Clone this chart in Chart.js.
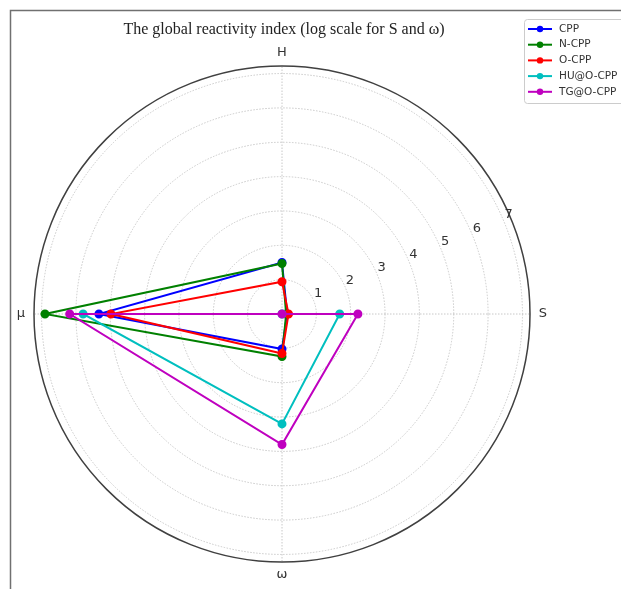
<!DOCTYPE html>
<html>
<head>
<meta charset="utf-8">
<script src="https://cdn.jsdelivr.net/npm/chart.js@4.4.1/dist/chart.umd.min.js"></script>
<style>
    html, body { margin: 0; padding: 0; background: #ffffff; }
    #wrap { width: 621px; height: 589px; position: relative; }
</style>
</head>
<body>
<div id="wrap"><canvas id="radar" width="621" height="589"></canvas></div>
<script>
// axes, clockwise from the top (H, S, omega, mu)
const categories = ['H', 'S', 'ω', 'μ'];
const seriesNames = ['CPP', 'N-CPP', 'O-CPP', 'HU@O-CPP', 'TG@O-CPP'];
const seriesColors = ['#0000ff', '#008000', '#ff0000', '#00bfbf', '#bf00bf'];

const cppValues   = [1.50, 0.15, 1.02, 5.33];
const ncppValues  = [1.47, 0.12, 1.24, 6.90];
const ocppValues  = [0.94, 0.19, 1.15, 4.98];
const huValues    = [0.00, 1.68, 3.20, 5.79];
const tgValues    = [0.00, 2.21, 3.80, 6.18];

const tickValues = [1, 2, 3, 4, 5, 6, 7];
const rMax = 7.22;

const titleText = 'The global reactivity index (log scale for S and ω)';

const allValues = [cppValues, ncppValues, ocppValues, huValues, tgValues];

const datasets = seriesNames.map((name, i) => ({
    label: name,
    data: allValues[i],
    borderColor: seriesColors[i],
    backgroundColor: seriesColors[i],
    pointBackgroundColor: seriesColors[i],
    pointBorderColor: seriesColors[i],
    pointRadius: 3.5,
    pointHoverRadius: 3.5,
    borderWidth: 2,
    fill: false,
    tension: 0,
    order: seriesNames.length - i   // last series on top, like matplotlib
}));

// extra drawing: frame, title, outer ring, axis labels, radial ticks, legend
const decor = {
    id: 'decor',
    beforeDraw(chart) {
        const ctx = chart.ctx;
        ctx.save();
        ctx.strokeStyle = '#707070';
        ctx.lineWidth = 1.5;
        ctx.beginPath();
        ctx.moveTo(10.5, 589);
        ctx.lineTo(10.5, 10.5);
        ctx.lineTo(621, 10.5);
        ctx.stroke();
        ctx.restore();
    },
    afterDatasetsDraw(chart) {
        const ctx = chart.ctx;
        const r = chart.scales.r;
        const cx = r.xCenter, cy = r.yCenter;
        ctx.save();

        // outer ring
        ctx.strokeStyle = '#404040';
        ctx.lineWidth = 1.5;
        ctx.beginPath();
        ctx.arc(cx, cy, r.getDistanceFromCenterForValue(rMax), 0, Math.PI * 2);
        ctx.stroke();

        // title
        ctx.fillStyle = '#222';
        ctx.font = '16px "Liberation Serif", "Times New Roman", serif';
        ctx.textAlign = 'center';
        ctx.textBaseline = 'middle';
        ctx.fillText(titleText, 284, 30);

        // category labels
        ctx.font = '13px "DejaVu Sans", sans-serif';
        ctx.fillStyle = '#333';
        categories.forEach((c, i) => {
            const p = r.getPointPosition(i, r.getDistanceFromCenterForValue(rMax) + 13);
            ctx.fillText(c, p.x, p.y);
        });

        // radial tick labels at 22.5 degrees
        const a = 22.5 * Math.PI / 180;
        tickValues.forEach(v => {
            const d = r.getDistanceFromCenterForValue(v);
            ctx.fillText(String(v), cx + d * Math.cos(a) + 4.5, cy - d * Math.sin(a) - 7);
        });

        // legend
        const lx = 524, ly = 19, lh = 84;
        ctx.fillStyle = 'rgba(255,255,255,0.85)';
        ctx.strokeStyle = '#cccccc';
        ctx.lineWidth = 1;
        ctx.beginPath();
        ctx.roundRect(lx + 0.5, ly + 0.5, 110, lh, 3);
        ctx.fill();
        ctx.stroke();
        ctx.font = '10.5px "DejaVu Sans", sans-serif';
        ctx.textAlign = 'left';
        seriesNames.forEach((name, i) => {
            const y = 29 + i * 15.7;
            ctx.strokeStyle = seriesColors[i];
            ctx.lineWidth = 2;
            ctx.beginPath();
            ctx.moveTo(528, y);
            ctx.lineTo(552, y);
            ctx.stroke();
            ctx.fillStyle = seriesColors[i];
            ctx.beginPath();
            ctx.arc(540, y, 3.2, 0, Math.PI * 2);
            ctx.fill();
            ctx.fillStyle = '#333';
            ctx.fillText(name, 559, y);
        });
        ctx.restore();
    }
};

new Chart(document.getElementById('radar'), {
    type: 'radar',
    data: { labels: categories, datasets: datasets },
    options: {
        responsive: false,
        animation: false,
        layout: { padding: { left: 34, right: 91, top: 66, bottom: 27 } },
        plugins: {
            legend: { display: false },
            title: { display: false },
            tooltip: { enabled: false }
        },
        scales: {
            r: {
                min: 0,
                max: rMax,
                ticks: { display: false, stepSize: 1, includeBounds: false },
                pointLabels: { display: false },
                grid: {
                    circular: true,
                    color: '#c8c8c8',
                    lineWidth: 1
                },
                border: { dash: [1.5, 1.5] },
                angleLines: {
                    color: '#c8c8c8',
                    lineWidth: 1,
                    borderDash: [1.5, 1.5]
                }
            }
        }
    },
    plugins: [decor]
});
</script>
</body>
</html>
